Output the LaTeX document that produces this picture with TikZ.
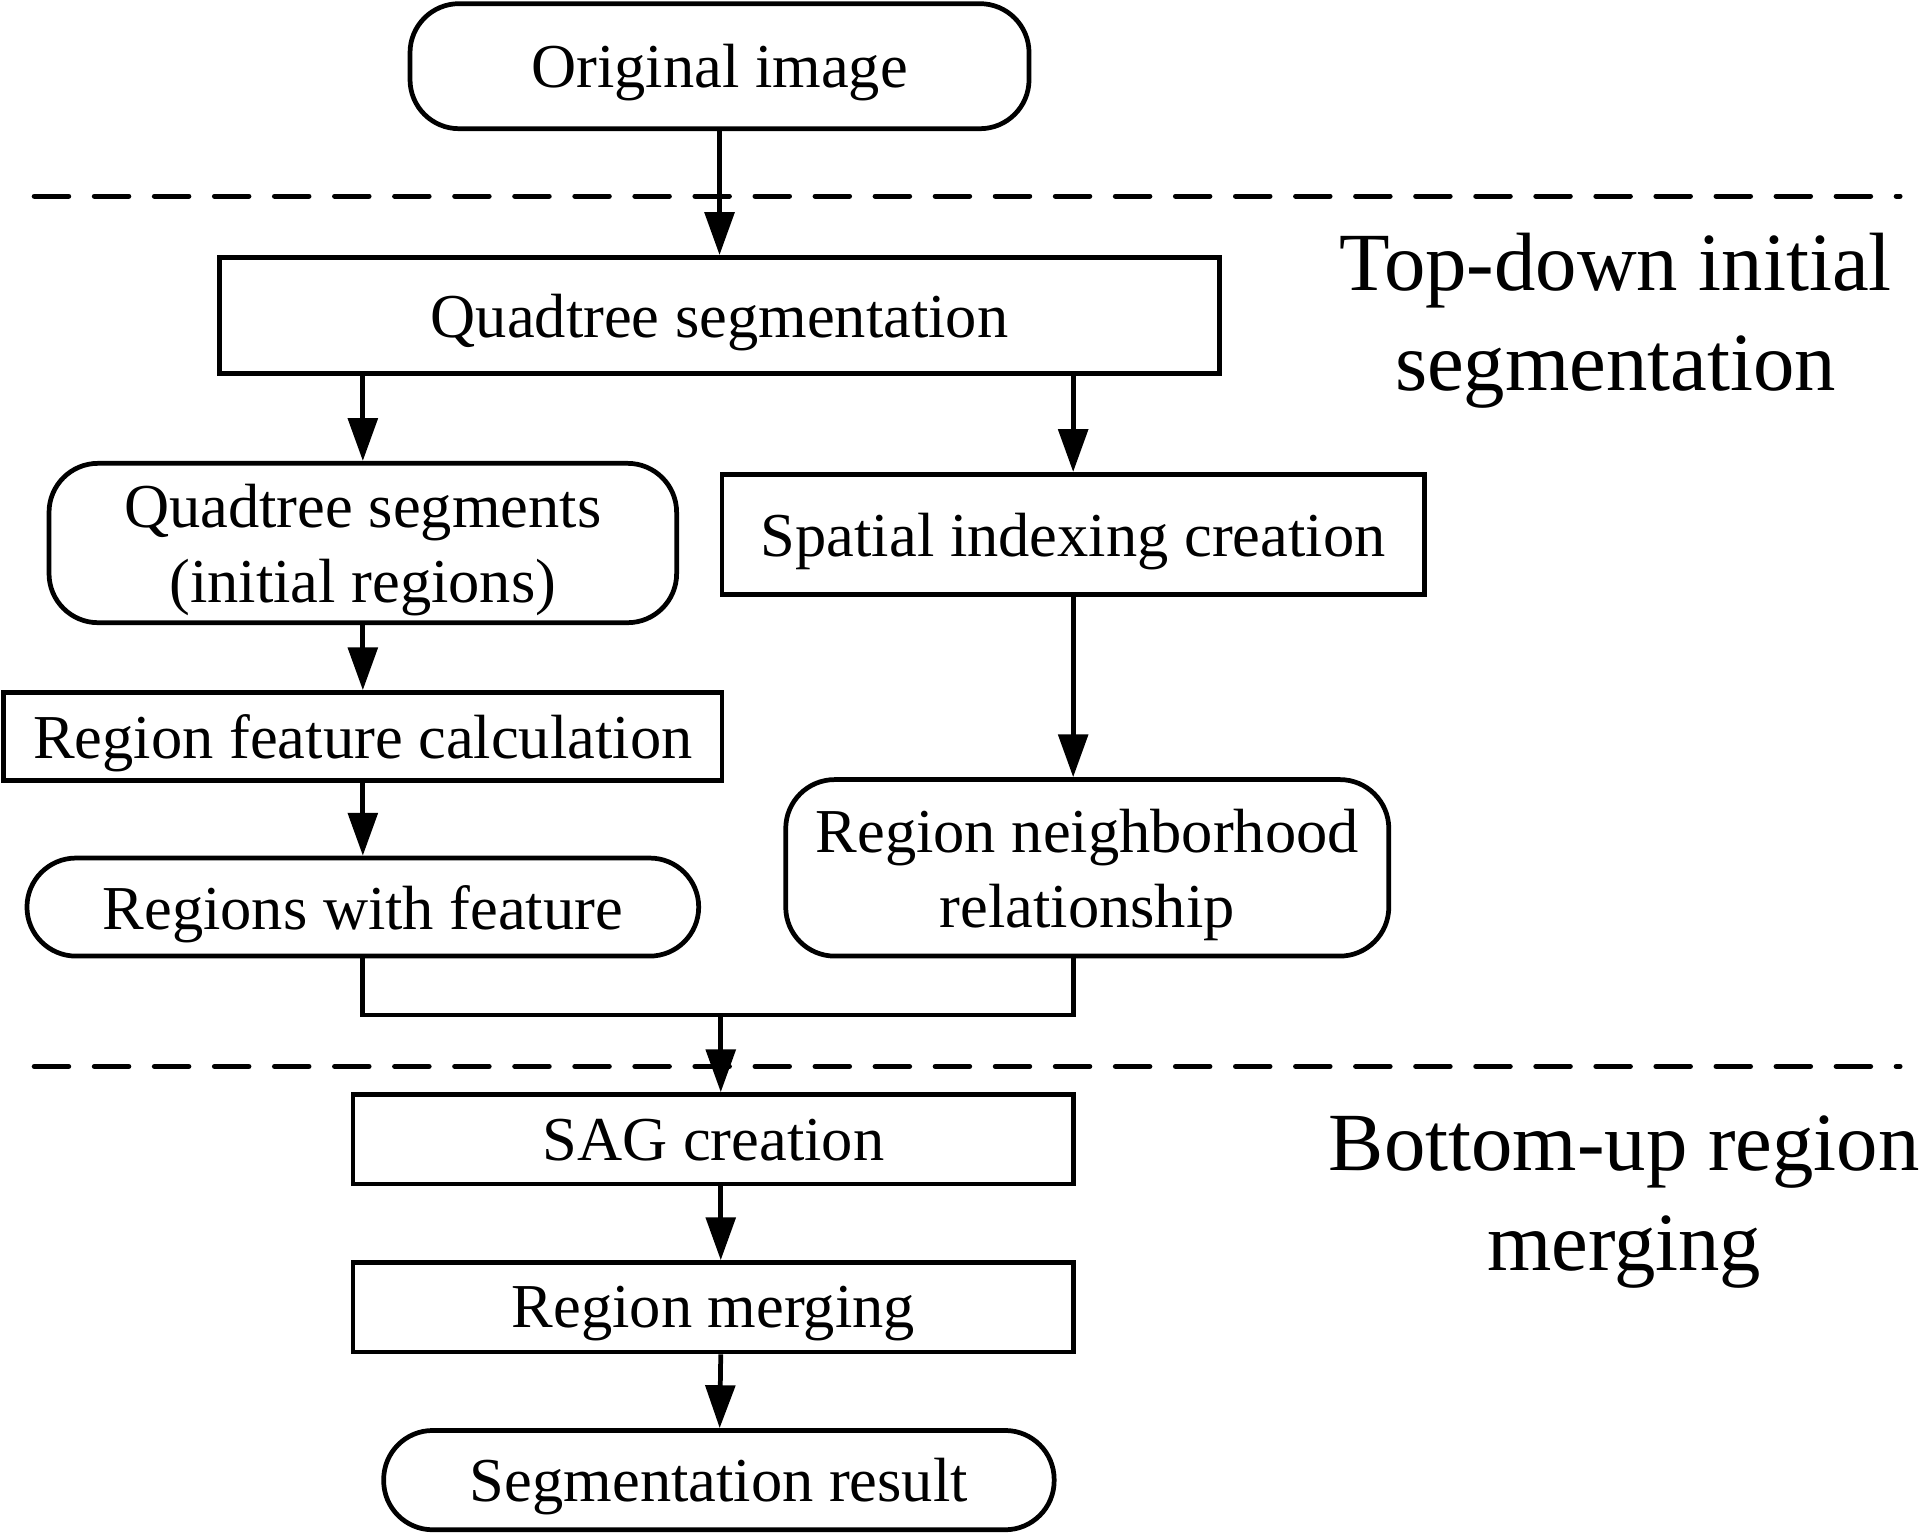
\documentclass[tikz,border=0pt]{standalone}
\usepackage{fontspec}
\setmainfont{Liberation Serif}
\usetikzlibrary{arrows.meta}

\tikzset{
  box/.style={draw, line width=1.1pt, inner sep=0pt, align=center, text depth=0pt,
    font=\fontsize{14.5}{17.4}\selectfont},
  rbox/.style={box, rounded corners=0.4cm},
  arr/.style={line width=1.1pt, -{Triangle[length=3.5mm,width=2.4mm]}},
  sep/.style={line width=1.2pt, dash pattern=on 2.8mm off 2.1mm, line cap=round},
  phase/.style={align=center, font=\fontsize{19.2}{23.2}\selectfont}
}

\begin{document}
\begin{tikzpicture}
  \useasboundingbox (0,0) rectangle (15.68,-12.506);

  \node[rbox, minimum width=5.05cm, minimum height=1.02cm] (0) at (5.87,-0.54) {Original image};

  \node[box, minimum width=8.16cm, minimum height=0.95cm] (1) at (5.87,-2.575) {Quadtree segmentation};

  \node[rbox, minimum width=5.12cm, minimum height=1.30cm] (2) at (2.96,-4.43) {Quadtree segments\\(initial regions)};
  \node[box, minimum width=5.73cm, minimum height=0.98cm] (3) at (8.755,-4.36) {Spatial indexing creation};

  \node[box, minimum width=5.86cm, minimum height=0.72cm] (4) at (2.96,-6.01) {Region feature calculation};

  \node[rbox, minimum width=5.48cm, minimum height=0.80cm] (5) at (2.96,-7.40) {Regions with feature};
  \node[rbox, minimum width=4.92cm, minimum height=1.44cm] (6) at (8.87,-7.08) {Region neighborhood\\relationship};

  \node[box, minimum width=5.88cm, minimum height=0.73cm] (7) at (5.82,-9.295) {SAG creation};
  \node[box, minimum width=5.88cm, minimum height=0.73cm] (8) at (5.82,-10.665) {Region merging};
  \node[rbox, minimum width=5.47cm, minimum height=0.81cm] (9) at (5.865,-12.075) {Segmentation result};

  \node[phase] (10) at (13.18,-2.62) {Top-down initial\\segmentation};
  \node[phase] (11) at (13.25,-9.81) {Bottom-up region\\merging};

  \coordinate (j) at (5.88,-8.28);

  \draw[sep] (0.28,-1.60) -- (15.50,-1.60);
  \draw[sep] (0.28,-8.70) -- (15.50,-8.70);

  \draw[arr] (0) -- (1);
  \draw[arr] (2.north |- 1.south) -- (2);
  \draw[arr] (3.north |- 1.south) -- (3);
  \draw[arr] (2) -- (4);
  \draw[arr] (4) -- (5);
  \draw[arr] (3.south) -- (3.south |- 6.north);
  \draw[line width=1.1pt] (5.south) |- (j) -| (3.south |- 6.south);
  \draw[arr] (j) -- (j |- 7.north);
  \draw[arr] (7.south -| j) -- (8.north -| j);
  \draw[arr] (8.south -| j) -- (9);
\end{tikzpicture}
\end{document}
